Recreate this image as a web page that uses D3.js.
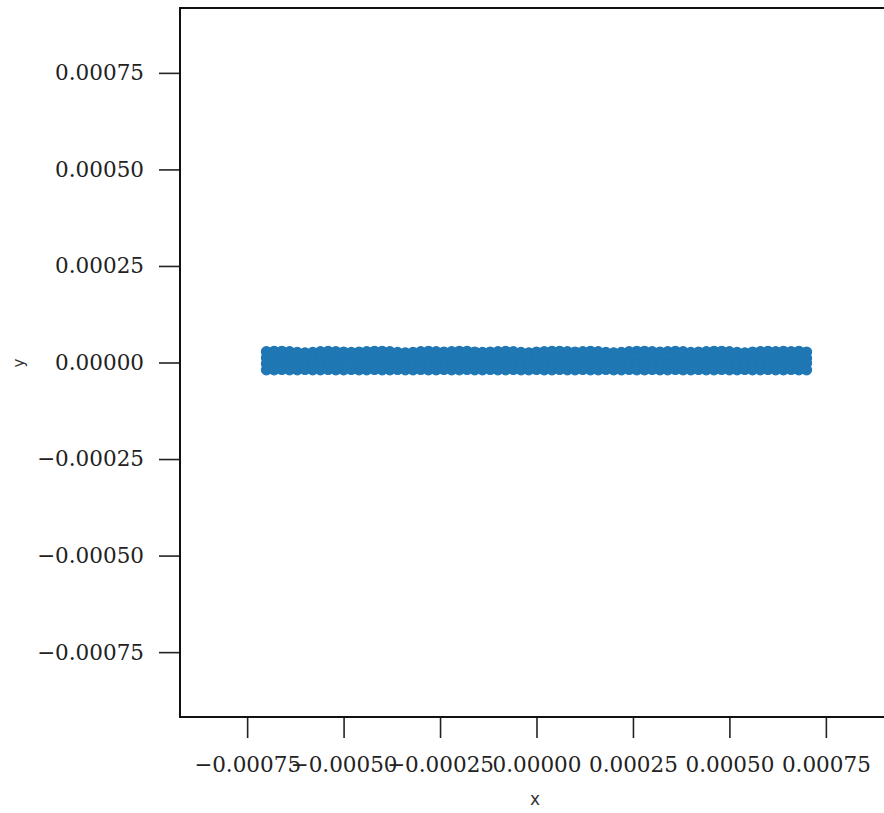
<!DOCTYPE html>
<html>
<head>
<meta charset="utf-8">
<script src="https://cdn.jsdelivr.net/npm/d3@7"></script>
<style>
  html, body { margin: 0; padding: 0; background: #fff; }
  svg { display: block; }
</style>
</head>
<body>
<svg id="chart" width="884" height="813"></svg>
<script>
// Sample positions along x (shared by every row of the scatter band)
const pointX = [
  -0.00070, -0.00068, -0.00066, -0.00064, -0.00062, -0.00060, -0.00058, -0.00056,
  -0.00054, -0.00052, -0.00050, -0.00048, -0.00046, -0.00044, -0.00042, -0.00040,
  -0.00038, -0.00036, -0.00034, -0.00032, -0.00030, -0.00028, -0.00026, -0.00024,
  -0.00022, -0.00020, -0.00018, -0.00016, -0.00014, -0.00012, -0.00010, -0.00008,
  -0.00006, -0.00004, -0.00002, 0.00000, 0.00002, 0.00004, 0.00006, 0.00008,
  0.00010, 0.00012, 0.00014, 0.00016, 0.00018, 0.00020, 0.00022, 0.00024,
  0.00026, 0.00028, 0.00030, 0.00032, 0.00034, 0.00036, 0.00038, 0.00040,
  0.00042, 0.00044, 0.00046, 0.00048, 0.00050, 0.00052, 0.00054, 0.00056,
  0.00058, 0.00060, 0.00062, 0.00064, 0.00066, 0.00068, 0.00070
];

// y values of the four rows of points, top to bottom
const topY = [
  2.8e-5, 2.9e-5, 2.9e-5, 2.8e-5, 2.6e-5, 2.5e-5, 2.6e-5, 2.8e-5,
  2.9e-5, 2.8e-5, 2.7e-5, 2.6e-5, 2.7e-5, 2.8e-5, 2.9e-5, 2.9e-5,
  2.8e-5, 2.6e-5, 2.5e-5, 2.6e-5, 2.8e-5, 2.9e-5, 2.8e-5, 2.7e-5,
  2.8e-5, 2.9e-5, 2.9e-5, 2.7e-5, 2.6e-5, 2.7e-5, 2.8e-5, 2.9e-5,
  2.8e-5, 2.6e-5, 2.5e-5, 2.7e-5, 2.8e-5, 2.9e-5, 2.9e-5, 2.8e-5,
  2.7e-5, 2.8e-5, 2.9e-5, 2.8e-5, 2.6e-5, 2.5e-5, 2.6e-5, 2.8e-5,
  2.9e-5, 2.9e-5, 2.8e-5, 2.7e-5, 2.8e-5, 2.9e-5, 2.8e-5, 2.6e-5,
  2.7e-5, 2.8e-5, 2.9e-5, 2.9e-5, 2.8e-5, 2.6e-5, 2.5e-5, 2.7e-5,
  2.8e-5, 2.9e-5, 2.8e-5, 2.9e-5, 2.8e-5, 2.9e-5, 2.7e-5
];
const upperY = [
  1.2e-5, 1.3e-5, 1.1e-5, 1.2e-5, 1.3e-5, 1.2e-5, 1.1e-5, 1.2e-5,
  1.3e-5, 1.2e-5, 1.1e-5, 1.2e-5, 1.3e-5, 1.2e-5, 1.1e-5, 1.2e-5,
  1.3e-5, 1.2e-5, 1.1e-5, 1.2e-5, 1.3e-5, 1.2e-5, 1.1e-5, 1.2e-5,
  1.3e-5, 1.2e-5, 1.1e-5, 1.2e-5, 1.3e-5, 1.2e-5, 1.1e-5, 1.2e-5,
  1.3e-5, 1.2e-5, 1.1e-5, 1.2e-5, 1.3e-5, 1.2e-5, 1.1e-5, 1.2e-5,
  1.3e-5, 1.2e-5, 1.1e-5, 1.2e-5, 1.3e-5, 1.2e-5, 1.1e-5, 1.2e-5,
  1.3e-5, 1.2e-5, 1.1e-5, 1.2e-5, 1.3e-5, 1.2e-5, 1.1e-5, 1.2e-5,
  1.3e-5, 1.2e-5, 1.1e-5, 1.2e-5, 1.3e-5, 1.2e-5, 1.1e-5, 1.2e-5,
  1.3e-5, 1.2e-5, 1.1e-5, 1.2e-5, 1.3e-5, 1.2e-5, 1.1e-5
];
const lowerY = [
  -0.3e-5, -0.4e-5, -0.2e-5, -0.3e-5, -0.4e-5, -0.3e-5, -0.2e-5, -0.3e-5,
  -0.4e-5, -0.3e-5, -0.2e-5, -0.3e-5, -0.4e-5, -0.3e-5, -0.2e-5, -0.3e-5,
  -0.4e-5, -0.3e-5, -0.2e-5, -0.3e-5, -0.4e-5, -0.3e-5, -0.2e-5, -0.3e-5,
  -0.4e-5, -0.3e-5, -0.2e-5, -0.3e-5, -0.4e-5, -0.3e-5, -0.2e-5, -0.3e-5,
  -0.4e-5, -0.3e-5, -0.2e-5, -0.3e-5, -0.4e-5, -0.3e-5, -0.2e-5, -0.3e-5,
  -0.4e-5, -0.3e-5, -0.2e-5, -0.3e-5, -0.4e-5, -0.3e-5, -0.2e-5, -0.3e-5,
  -0.4e-5, -0.3e-5, -0.2e-5, -0.3e-5, -0.4e-5, -0.3e-5, -0.2e-5, -0.3e-5,
  -0.4e-5, -0.3e-5, -0.2e-5, -0.3e-5, -0.4e-5, -0.3e-5, -0.2e-5, -0.3e-5,
  -0.4e-5, -0.3e-5, -0.2e-5, -0.3e-5, -0.4e-5, -0.3e-5, -0.2e-5
];
const bottomY = [
  -1.9e-5, -1.9e-5, -1.8e-5, -1.9e-5, -1.9e-5, -1.8e-5, -1.9e-5, -1.9e-5,
  -1.8e-5, -1.9e-5, -1.9e-5, -1.8e-5, -1.9e-5, -1.9e-5, -1.8e-5, -1.9e-5,
  -1.9e-5, -1.8e-5, -1.9e-5, -1.9e-5, -1.8e-5, -1.9e-5, -1.9e-5, -1.8e-5,
  -1.9e-5, -1.9e-5, -1.8e-5, -1.9e-5, -1.9e-5, -1.8e-5, -1.9e-5, -1.9e-5,
  -1.8e-5, -1.9e-5, -1.9e-5, -1.8e-5, -1.9e-5, -1.9e-5, -1.8e-5, -1.9e-5,
  -1.9e-5, -1.8e-5, -1.9e-5, -1.9e-5, -1.8e-5, -1.9e-5, -1.9e-5, -1.8e-5,
  -1.9e-5, -1.9e-5, -1.8e-5, -1.9e-5, -1.9e-5, -1.8e-5, -1.9e-5, -1.9e-5,
  -1.8e-5, -1.9e-5, -1.9e-5, -1.8e-5, -1.9e-5, -1.9e-5, -1.8e-5, -1.9e-5,
  -1.9e-5, -1.8e-5, -1.9e-5, -1.9e-5, -1.8e-5, -1.9e-5, -1.9e-5
];

// Axis ticks and their labels
const xTicks = [-0.00075, -0.00050, -0.00025, 0.00000, 0.00025, 0.00050, 0.00075];
const xTickLabels = ["\u22120.00075", "\u22120.00050", "\u22120.00025", "0.00000", "0.00025", "0.00050", "0.00075"];
const yTicks = [0.00075, 0.00050, 0.00025, 0.00000, -0.00025, -0.00050, -0.00075];
const yTickLabels = ["0.00075", "0.00050", "0.00025", "0.00000", "\u22120.00025", "\u22120.00050", "\u22120.00075"];

const xDomain = [-0.000924, 0.000924];
const yDomain = [-0.000918, 0.000918];

const svg = d3.select("#chart");
const plot = { left: 180, top: 8, width: 713, height: 709 };

const x = d3.scaleLinear().domain(xDomain).range([plot.left, plot.left + plot.width]);
const y = d3.scaleLinear().domain(yDomain).range([plot.top + plot.height, plot.top]);

// Build the scatter points from the rows
const points = [];
[topY, upperY, lowerY, bottomY].forEach(row => {
  row.forEach((v, i) => points.push({ x: pointX[i], y: v }));
});

svg.append("g")
  .selectAll("circle")
  .data(points)
  .join("circle")
  .attr("cx", d => x(d.x))
  .attr("cy", d => y(d.y))
  .attr("r", 5)
  .attr("fill", "#1f77b4")
  .attr("stroke", "#1f77b4")
  .attr("stroke-width", 1.2);

const tickFont = "'DejaVu Serif', serif";

// Bottom axis
const xAxis = d3.axisBottom(x)
  .tickValues(xTicks)
  .tickFormat((d, i) => xTickLabels[i])
  .tickSize(21)
  .tickPadding(19)
  .tickSizeOuter(0);

const gx = svg.append("g")
  .attr("transform", `translate(0,${plot.top + plot.height})`)
  .call(xAxis);
gx.select(".domain").remove();
gx.selectAll(".tick line").attr("stroke", "#222").attr("stroke-width", 1.6);
gx.selectAll(".tick text")
  .attr("font-family", tickFont)
  .attr("font-size", 21.5)
  .attr("fill", "#222");

// Left axis
const yAxis = d3.axisLeft(y)
  .tickValues(yTicks)
  .tickFormat((d, i) => yTickLabels[i])
  .tickSize(21)
  .tickPadding(15)
  .tickSizeOuter(0);

const gy = svg.append("g")
  .attr("transform", `translate(${plot.left},0)`)
  .call(yAxis);
gy.select(".domain").remove();
gy.selectAll(".tick line").attr("stroke", "#222").attr("stroke-width", 1.6);
gy.selectAll(".tick text")
  .attr("font-family", tickFont)
  .attr("font-size", 21.5)
  .attr("fill", "#222");

// Frame
svg.append("rect")
  .attr("x", plot.left)
  .attr("y", plot.top)
  .attr("width", plot.width)
  .attr("height", plot.height)
  .attr("fill", "none")
  .attr("stroke", "#111")
  .attr("stroke-width", 2);

// Axis titles
svg.append("text")
  .attr("x", 535)
  .attr("y", 805)
  .attr("text-anchor", "middle")
  .attr("font-family", "'DejaVu Sans', sans-serif")
  .attr("font-size", 17)
  .attr("fill", "#333")
  .text("x");

svg.append("text")
  .attr("transform", "translate(24,363) rotate(-90)")
  .attr("text-anchor", "middle")
  .attr("font-family", "'DejaVu Sans', sans-serif")
  .attr("font-size", 15)
  .attr("fill", "#333")
  .text("y");
</script>
</body>
</html>
